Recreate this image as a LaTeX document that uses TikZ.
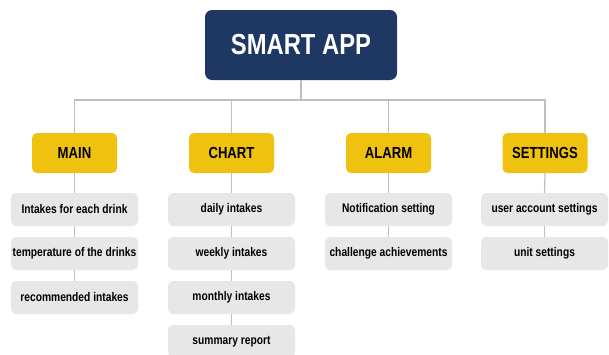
\documentclass[tikz,border=0pt]{standalone}
\usepackage{fontspec}
\setmainfont{Liberation Sans}[FakeStretch=0.82]
\usepackage{tikz}
\usetikzlibrary{positioning}
\usepackage{xcolor}
\definecolor{appnavy}{RGB}{31,55,99}
\definecolor{appyellow}{RGB}{238,194,14}
\definecolor{appgray}{RGB}{231,231,231}
\definecolor{applink}{RGB}{190,190,190}
\tikzstyle{link} = [line width=1.2bp, color=applink]
\tikzstyle{rootbox} = [rectangle, rounded corners=7bp, minimum width=192bp, minimum height=70bp, inner sep=0pt, fill=appnavy, text=white, font=\bfseries\fontsize{29bp}{31bp}\selectfont]
\tikzstyle{menubox} = [rectangle, rounded corners=5bp, minimum width=85bp, minimum height=40bp, inner sep=0pt, fill=appyellow, text=black, font=\bfseries\fontsize{16bp}{18bp}\selectfont]
\tikzstyle{itembox} = [rectangle, rounded corners=5bp, minimum width=127bp, minimum height=33bp, inner sep=0pt, fill=appgray, text=black, font=\bfseries\fontsize{12.5bp}{14bp}\selectfont]

\begin{document}
\begin{tikzpicture}[x=1bp, y=-1bp]
\useasboundingbox[fill=white] (0,0) rectangle (609,354);

% Root
\node[rootbox] (app) at (301,45) {SMART APP};
\coordinate (bus) at (301,100);

% Menus
\node[menubox] (main) at (74.5,153) {MAIN};
\node[menubox] (chart) at (231.5,153) {CHART};
\node[menubox] (alarm) at (388.5,153) {ALARM};
\node[menubox] (settings) at (545,153) {SETTINGS};

% Items
\node[itembox] (main1) at (74.5,209.5) {Intakes for each drink};
\node[itembox] (main2) at (74.5,253.5) {temperature of the drinks};
\node[itembox] (main3) at (74.5,297.5) {recommended intakes};

\node[itembox] (chart1) at (231.5,209.5) {daily intakes};
\node[itembox] (chart2) at (231.5,253.5) {weekly intakes};
\node[itembox] (chart3) at (231.5,297.5) {monthly intakes};
\node[itembox] (chart4) at (231.5,341.5) {summary report};

\node[itembox] (alarm1) at (388.5,209.5) {Notification setting};
\node[itembox] (alarm2) at (388.5,253.5) {challenge achievements};

\node[itembox] (settings1) at (544.5,209.5) {user account settings};
\node[itembox] (settings2) at (544.5,253.5) {unit settings};

% Links
\draw[link] (app.south) -- (bus);
\draw[link] (main.north) |- (bus) -| (settings.north);
\draw[link] (chart.north) -- (chart.north |- bus);
\draw[link] (alarm.north) -- (alarm.north |- bus);

\draw[link] (main.south) -- (main1.north);
\draw[link] (main1) -- (main2);
\draw[link] (main2) -- (main3);
\draw[link] (chart.south) -- (chart1.north);
\draw[link] (chart1) -- (chart2);
\draw[link] (chart2) -- (chart3);
\draw[link] (chart3) -- (chart4);
\draw[link] (alarm.south) -- (alarm1.north);
\draw[link] (alarm1) -- (alarm2);
\draw[link] (settings.south) -- (settings1.north);
\draw[link] (settings1) -- (settings2);
\end{tikzpicture}
\end{document}
